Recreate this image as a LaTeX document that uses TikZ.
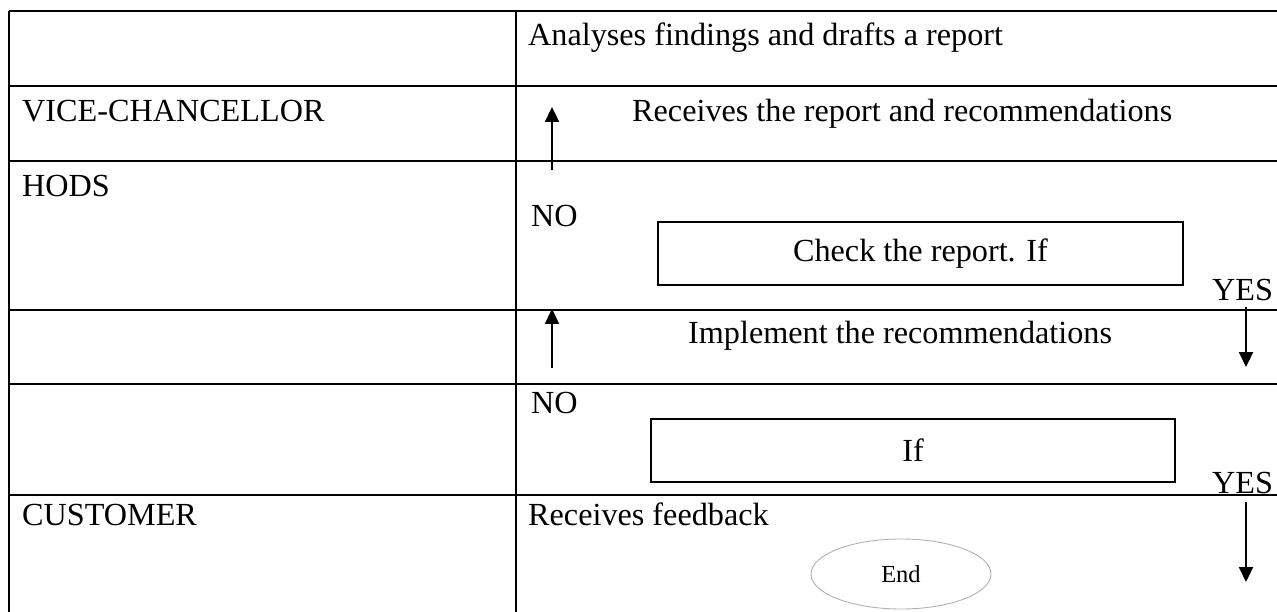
\documentclass[tikz,border=0pt]{standalone}
\usepackage{fontspec}
\setmainfont{Liberation Serif}
\usetikzlibrary{arrows.meta,shapes.geometric}

\tikzset{
    lane/.style={line width=2.2pt},
    lbl/.style={anchor=base west,inner sep=0pt,font=\fontsize{32.2}{37}\selectfont},
    ifbox/.style={draw,line width=2pt,inner sep=0pt,minimum height=63pt,font=\fontsize{32.2}{37}\selectfont},
    flow/.style={line width=2.3pt,-{Triangle[length=15pt,width=14pt]}},
    endnode/.style={draw=gray!60,ellipse,line width=0.9pt,minimum width=180pt,minimum height=70pt,inner sep=0pt,font=\fontsize{24.5}{28}\selectfont}
}

\begin{document}
\begin{tikzpicture}[x=1pt,y=-1pt]
        \useasboundingbox (0,0) rectangle (1277,612);

        % table
        \draw[lane] (9,11) -- (1277,11);
        \draw[lane] (9,86) -- (1277,86);
        \draw[lane] (9,161) -- (1277,161);
        \draw[lane] (9,310) -- (1277,310);
        \draw[lane] (9,384) -- (1277,384);
        \draw[lane] (9,495) -- (1277,495);
        \draw[lane] (9,11) -- (9,612);
        \draw[lane] (516,11) -- (516,612);

        % roles
        \node[lbl] (vc) at (22,122) {VICE-CHANCELLOR};
        \node[lbl] (hods) at (22,197) {HODS};
        \node[lbl] (cust) at (22,525) {CUSTOMER};

        % steps
        \node[lbl] (analyse) at (528,46) {Analyses findings and drafts a report};
        \node[lbl] (receive) at (632,122) {Receives the report and recommendations};
        \node[lbl] (implement) at (688,343) {Implement the recommendations};
        \node[lbl] (feedback) at (528,525) {Receives feedback};

        % decisions
        \node[ifbox,minimum width=525pt] (check) at (920.5,253.5) {Check the report. If};
        \node[ifbox,minimum width=524pt] (cond) at (913,450.5) {If};
        \node[lbl] (no1) at (531,227) {NO};
        \node[lbl] (yes1) at (1212,301) {YES};
        \node[lbl] (no2) at (531,413) {NO};
        \node[lbl] (yes2) at (1212,493) {YES};

        % end
        \node[endnode] (stop) at (901,574) {End};

        % arrows
        \coordinate (upA) at (552,170);
        \coordinate (upB) at (552,107);
        \coordinate (upC) at (552,368);
        \coordinate (upD) at (552,309);
        \coordinate (dnA) at (1246,307);
        \coordinate (dnB) at (1246,367);
        \coordinate (dnC) at (1246,502);
        \coordinate (dnD) at (1246,582);
        \draw[flow] (upA) -- (upB);
        \draw[flow] (upC) -- (upD);
        \draw[flow] (dnA) -- (dnB);
        \draw[flow] (dnC) -- (dnD);
    \end{tikzpicture}
\end{document}
